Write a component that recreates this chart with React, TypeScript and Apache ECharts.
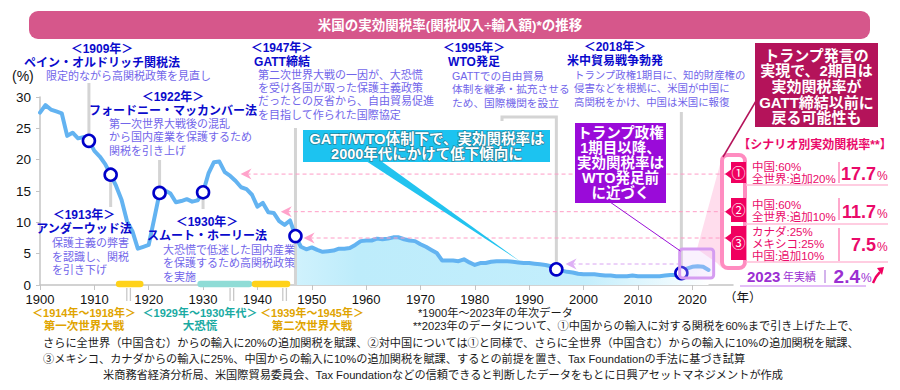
import React, { useEffect, useRef } from "react";
import * as echarts from "echarts";

const FONT = "'Liberation Sans','Noto Sans CJK JP',sans-serif";

// ---- data ----
const startYear = 1900;
const rates = [
  27.5, 28.7, 28.0, 27.7, 27.4, 23.8, 24.3, 23.4, 23.6, 23.0,
  21.4, 20.5, 19.3, 17.6, 15.8, 13.6, 10.2, 8.6, 5.8, 6.1,
  6.4, 10.5, 14.7, 15.1, 14.6, 13.2, 13.4, 13.7, 13.3, 13.5,
  14.8, 17.8, 19.6, 19.7, 18.0, 17.4, 16.6, 15.6, 15.3, 14.4,
  12.5, 13.1, 11.6, 11.5, 10.2, 9.6, 10.3, 7.8, 6.1, 5.7,
  6.0, 5.6, 5.3, 5.4, 5.5, 5.8, 5.8, 5.9, 6.4, 7.0,
  7.1, 7.1, 7.4, 7.3, 7.4, 7.6, 7.6, 7.3, 7.1, 7.0,
  6.5, 6.1, 5.6, 5.1, 3.9, 3.9, 3.9, 3.8, 4.1, 3.6,
  3.2, 3.5, 3.5, 3.7, 3.8, 3.8, 3.8, 3.7, 3.6, 3.5,
  3.5, 3.4, 3.3, 3.2, 3.0, 2.5, 2.3, 2.1, 2.0, 1.8,
  1.7, 1.7, 1.7, 1.6, 1.5, 1.5, 1.4, 1.4, 1.4, 1.5,
  1.4, 1.4, 1.4, 1.4, 1.4, 1.5, 1.6, 1.6, 1.9, 2.6,
  2.9, 3.0, 2.9, 2.4,
];
const years = rates.map((_, i) => startYear + i);
const xTickValues = [1900, 1910, 1920, 1930, 1940, 1950, 1960, 1970, 1980, 1990, 2000, 2010, 2020];
const eventYears = [1909, 1913, 1922, 1930, 1947, 1995, 2018];
const areaStartYear = 1947;
const scenarioRates = [17.7, 11.7, 7.5];
const scenarioNums = ["①", "②", "③"];
const scenarioLines = [
  ["中国:60%", "全世界:追加20%"],
  ["中国:60%", "全世界:追加10%"],
  ["カナダ:25%", "メキシコ:25%", "中国:追加10%"],
];
const actual2023 = 2.4;
const periods = [
  { from: 1914, to: 1918, color: "#ffd21a", label: "＜1914年～1918年＞", name: "第一次世界大戦", text: "#e0a400" },
  { from: 1929, to: 1938, color: "#8fdcd6", label: "＜1929年～1930年代＞", name: "大恐慌", text: "#1aaaa2" },
  { from: 1939, to: 1945, color: "#ffd21a", label: "＜1939年～1945年＞", name: "第二次世界大戦", text: "#e0a400" },
];

const NAVY = "#0a0acc";
const DESC = "#7266ea";
const PINK = "#ea0a6a";

function txt(text: string, x: number, y: number, size: number, color: string, o: any = {}) {
  return {
    type: "text",
    z: o.z ?? 60,
    silent: true,
    style: {
      text,
      x,
      y,
      fill: color,
      font: `${o.bold ? "bold " : ""}${size}px ${FONT}`,
      textAlign: o.align || "left",
      align: o.align || "left",
      textVerticalAlign: "middle",
      verticalAlign: "middle",
      ...(o.stroke ? { stroke: o.stroke, lineWidth: o.lw || 1.5 } : {}),
    },
  };
}
function line(x1: number, y1: number, x2: number, y2: number, stroke: string, lw: number, o: any = {}) {
  return {
    type: "line",
    z: o.z ?? 40,
    silent: true,
    shape: { x1, y1, x2, y2 },
    style: { stroke, lineWidth: lw, lineDash: o.dash, lineCap: o.cap || "butt" },
  };
}
function rect(x: number, y: number, w: number, h: number, style: any, z = 50, r = 0) {
  return { type: "rect", z, silent: true, shape: { x, y, width: w, height: h, r }, style };
}
function poly(points: number[][], fill: string, z = 45) {
  return { type: "polygon", z, silent: true, shape: { points }, style: { fill } };
}

export default function App() {
  const ref = useRef<HTMLDivElement>(null);
  useEffect(() => {
    const chart = echarts.init(ref.current!, null, { renderer: "svg" });
    const lineData = years.map((y, i) => [y, rates[i]]);
    const areaData = lineData.filter((d) => d[0] >= areaStartYear);
    const eventData = eventYears.map((y) => [y, rates[y - startYear]]);
    chart.setOption({
      animation: false,
      backgroundColor: "#ffffff",
      grid: { left: 40, right: 167, top: 97, bottom: 105 },
      xAxis: {
        type: "value",
        min: 1900,
        max: 2027.5,
        interval: 10,
        splitLine: { show: false },
        axisLine: { lineStyle: { color: "#c4c4c4", width: 1.5 } },
        axisTick: { length: 5, lineStyle: { color: "#c4c4c4" }, customValues: xTickValues },
        axisLabel: {
          color: "#111",
          fontSize: 13,
          fontFamily: FONT,
          margin: 8,
          customValues: xTickValues,
          formatter: (v: number) => String(v),
        },
      },
      yAxis: {
        type: "value",
        min: 0,
        max: 30,
        interval: 5,
        splitLine: { show: false },
        axisLine: { show: true, lineStyle: { color: "#c4c4c4", width: 1.5 } },
        axisTick: { show: true, length: 4, lineStyle: { color: "#c4c4c4" } },
        axisLabel: { color: "#111", fontSize: 13.5, fontFamily: FONT, margin: 9 },
      },
      series: [
        {
          type: "line",
          data: areaData,
          symbol: "none",
          lineStyle: { width: 0 },
          z: 1,
          areaStyle: {
            color: new echarts.graphic.LinearGradient(0, 0, 1, 0, [
              { offset: 0, color: "#d0f2fd" },
              { offset: 0.15, color: "#bdecfb" },
              { offset: 0.7, color: "#c3eefc" },
              { offset: 1, color: "#ffffff" },
            ]),
            opacity: 1,
          },
        },
        {
          type: "line",
          data: lineData,
          symbol: "none",
          z: 3,
          lineStyle: { color: "#63b3f1", width: 4, cap: "round", join: "round" },
        },
        {
          type: "scatter",
          data: eventData,
          symbol: "circle",
          symbolSize: 12,
          z: 10,
          itemStyle: { color: "#ffffff", borderColor: "#0000c8", borderWidth: 2.6, opacity: 1 },
        },
      ],
    });

    const px = (x: number, y: number) => chart.convertToPixel({ gridIndex: 0 }, [x, y]) as number[];
    const g: any[] = [];

    // title banner
    g.push(rect(29, 11, 841, 28, { fill: "#d6578b" }, 50, 9));
    g.push(txt("米国の実効関税率(関税収入÷輸入額)*の推移", 450, 25, 13.5, "#fff", { bold: true, align: "center" }));
    g.push(txt("(%)", 12, 76, 14, "#111"));
    g.push(txt("（年）", 724, 298, 12.5, "#111"));

    // event lines
    const GRAY = "#d4d4d4";
    const ev = (yr: number) => px(yr, rates[yr - startYear]);
    const e1909 = ev(1909), e1913 = ev(1913), e1922 = ev(1922), e1930 = ev(1930), e1947 = ev(1947), e1995 = ev(1995), e2018 = ev(2018);
    const bottom0 = px(1900, 0)[1];
    g.push(line(e1909[0], 83, e1909[0], e1909[1], GRAY, 3, { z: 1 }));
    g.push(line(e1913[0], e1913[1], e1913[0], 207, GRAY, 3, { z: 1 }));
    g.push(line(e1922[0], 160, e1922[0], e1922[1], GRAY, 3, { z: 1 }));
    g.push(line(e1930[0], e1930[1], e1930[0], 209, GRAY, 3, { z: 1 }));
    g.push(line(e1947[0], 128, e1947[0], bottom0, GRAY, 3, { z: 1 }));
    g.push({ type: "polyline", z: 1, silent: true, shape: { points: [[502, 121], [502, 117], [e1995[0], 117], [e1995[0], e1995[1]]] }, style: { stroke: GRAY, lineWidth: 3, fill: null } });
    g.push(line(e2018[0], 112, e2018[0], e2018[1], GRAY, 3, { z: 1 }));

    // period bars + connectors + labels
    const labelCenters = [84, 200, 312];
    const connectorYears = [1916.3, 1935.3, 1945.0];
    periods.forEach((p, i) => {
      const a = px(p.from, 0), b = px(p.to + 1, 0);
      g.push(line(a[0] + 3, a[1] - 1, b[0] - 3, b[1] - 1, p.color, 6.5, { z: 30, cap: "round" }));
      const cx = px(connectorYears[i], 0)[0];
      g.push(line(cx - 1.8, bottom0 + 3, cx - 1.8, bottom0 + 16, "#c8c8c8", 1.3, { z: 30 }));
      g.push(line(cx + 1.8, bottom0 + 3, cx + 1.8, bottom0 + 16, "#c8c8c8", 1.3, { z: 30 }));
      g.push(txt(p.label, labelCenters[i], 313, 11, p.text, { bold: true, align: "center" }));
      g.push(txt(p.name, labelCenters[i], 326, 11.5, p.text, { bold: true, align: "center" }));
    });

    // annotations
    const ann = (year: string, name: string, cx: number, y: number, desc: string[], dx: number, dy: number, lh: number, ds = 11) => {
      g.push(txt(`＜${year}年＞`, cx, y, 12, NAVY, { bold: true, align: "center" }));
      g.push(txt(name, cx, y + 13.5, 12, NAVY, { bold: true, align: "center" }));
      desc.forEach((d, i) => g.push(txt(d, dx, dy + i * lh, ds, DESC)));
    };
    ann("1909", "ペイン・オルドリッチ関税法", 102, 49, ["限定的ながら高関税政策を見直し"], 46, 76, 13);
    ann("1922", "フォードニー・マッカンバー法", 173, 97, ["第一次世界大戦後の混乱", "から国内産業を保護するため", "関税を引き上げ"], 109, 124, 13.3);
    ann("1913", "アンダーウッド法", 84, 215, ["保護主義の弊害", "を認識し、関税", "を引き下げ"], 52, 243, 13.5);
    ann("1930", "スムート・ホーリー法", 207, 222, ["大恐慌で低迷した国内産業", "を保護するため高関税政策", "を実施"], 163, 250, 13.3);
    ann("1947", "GATT締結", 282, 48, ["第二次世界大戦の一因が、大恐慌", "を受け各国が取った保護主義政策", "だったとの反省から、自由貿易促進", "を目指して作られた国際協定"], 258, 75, 13.2);
    ann("1995", "WTO発足", 474, 48, ["GATTでの自由貿易", "体制を継承・拡充させる", "ため、国際機関を設立"], 452, 76, 13.4, 10.7);
    ann("2018", "米中貿易戦争勃発", 615, 47, ["トランプ政権1期目に、知的財産権の", "侵害などを根拠に、米国が中国に", "高関税をかけ、中国は米国に報復"], 574, 75, 13.5, 10.4);

    // scenario dashed lines
    const dashStarts = [1936.9, 1944.3, 1948.5];
    const arrowHead = (x: number, y: number, c: string) => poly([[x, y], [x + 11, y - 5.5], [x + 7.5, y], [x + 11, y + 5.5]], c, 42);
    scenarioRates.forEach((v, i) => {
      const a = px(dashStarts[i], v);
      g.push(line(a[0] + 6, a[1], 726, a[1], "#ff9cc6", 1, { dash: [4, 3], z: 40 }));
      g.push(arrowHead(a[0], a[1], "#ffa3cb"));
      g.push(poly([[725, a[1]], [731, a[1] - 4.5], [731, a[1] + 4.5]], "#f0005f", 56));
    });
    const a24 = px(1996.7, 3.35);
    g.push(line(a24[0] + 6, a24[1], e2018[0] - 2, a24[1], "#d9a4f2", 1, { dash: [4, 3], z: 40 }));
    g.push(arrowHead(a24[0], a24[1], "#deb0f5"));

    // cyan callout
    g.push(poly([[366, 161], [381, 161], [521, 262]], "#22c3ef", 44));
    g.push(rect(303, 130, 247, 32, { fill: "#1cc3f0" }, 50));
    g.push(txt("GATT/WTO体制下で、実効関税率は", 427, 138.5, 14.5, "#fff", { bold: true, align: "center", stroke: "rgba(50,50,50,0.45)", lw: 1.5, z: 61 }));
    g.push(txt("2000年代にかけて低下傾向に", 427, 154, 14.5, "#fff", { bold: true, align: "center", stroke: "rgba(50,50,50,0.45)", lw: 1.5, z: 61 }));

    // purple callout
    g.push(line(610, 202, e2018[0] - 1, 251, "#9a10d8", 1, { z: 44 }));
    g.push(rect(575, 123, 91, 80, { fill: "#9a0bd9" }, 50));
    ["トランプ政権", "1期目以降、", "実効関税率は", "WTO発足前", "に近づく"].forEach((t, i) =>
      g.push(txt(t, 620.5, 133 + i * 15, 14.5, "#fff", { bold: true, align: "center" })));

    // crimson callout
    g.push(line(756, 101, 723, 157, "#b4135a", 1.5, { z: 44 }));
    g.push(rect(755, 43, 123, 84, { fill: "#b4135a" }, 50));
    ["トランプ発言の", "実現で、2期目は", "実効関税率が", "GATT締結以前に", "戻る可能性も"].forEach((t, i) =>
      g.push(txt(t, 816.5, 55 + i * 15.7, 15, "#fff", { bold: true, align: "center" })));

    // highlight square + fan + bracket
    const sq0 = px(2017.5, 0)[0];
    g.push(poly([[697, 249], [722, 157], [722, 268], [717, 263]], "rgba(255,165,208,0.38)", 20));
    g.push(rect(sq0 + 1, 249, 34, 29, { fill: "rgba(235,200,250,0.25)", stroke: "#d59cf1", lineWidth: 3 }, 21, 3));
    g.push(rect(722, 155, 23, 113, { fill: null, stroke: "#ff8cc0", lineWidth: 4 }, 22, 6));

    // scenario panel
    g.push(txt("【シナリオ別実効関税率**】", 815, 145, 12, PINK, { bold: true, align: "center" }));
    const boxes = [[162, 21], [198, 24], [226, 34]];
    const valY = [174, 212, 245];
    const sepY = [[162, 183], [198, 220], [228, 261]];
    const underY = [185, 224, 262];
    scenarioLines.forEach((lines, i) => {
      g.push(rect(731, boxes[i][0], 15, boxes[i][1], { fill: "#f0005f" }, 55));
      g.push(txt(scenarioNums[i], 738.5, boxes[i][0] + boxes[i][1] / 2, 14, "#fff", { align: "center", z: 62 }));
      const y0 = valY[i] - ((lines.length - 1) * 12) / 2 - 1;
      lines.forEach((t, j) => g.push(txt(t, 752, y0 + j * 12, 11.5, PINK)));
      g.push(line(839, sepY[i][0], 839, sepY[i][1], "#ff8cbc", 1.5, { z: 45 }));
      g.push(line(746, underY[i], 888, underY[i], "#ffbcd7", 1.5, { z: 45 }));
      g.push(txt(String(scenarioRates[i]), 876, valY[i], 18, PINK, { bold: true, align: "right" }));
      g.push(txt("%", 877, valY[i] + 2, 12, PINK));
    });
    const PUR = "#9b2fd2";
    g.push(txt("2023", 747, 276, 15, PUR, { bold: true }));
    g.push(txt("年実績", 783, 277, 11, PUR));
    g.push(line(825, 270, 825, 283, "#c49ae6", 1.5, { z: 62 }));
    g.push(txt(String(actual2023), 860, 276, 19, PUR, { bold: true, align: "right" }));
    g.push(txt("%", 861, 278, 12, PUR));
    g.push(line(740, 286, 866, 286, "#e4bff7", 2, { z: 45 }));
    g.push({ type: "polyline", z: 60, silent: true, shape: { points: [[873, 283], [876, 277], [880, 272]] }, style: { stroke: "#f0005f", lineWidth: 2.5, fill: null } });
    g.push(poly([[877, 268], [884, 267], [882, 275]], "#f0005f", 60));

    // footnotes
    const FN = "#1a1a1a";
    g.push(txt("*1900年～2023年の年次データ", 418, 313, 11.2, FN));
    g.push(txt("**2023年のデータについて、①中国からの輸入に対する関税を60%まで引き上げた上で、", 413, 326, 11.2, FN));
    g.push(txt("さらに全世界（中国含む）からの輸入に20%の追加関税を賦課、②対中国については①と同様で、さらに全世界（中国含む）からの輸入に10%の追加関税を賦課、", 43, 343, 11.2, FN));
    g.push(txt("③メキシコ、カナダからの輸入に25%、中国からの輸入に10%の追加関税を賦課、するとの前提を置き、Tax Foundationの手法に基づき試算", 43, 359, 11.2, FN));
    g.push(txt("米商務省経済分析局、米国際貿易委員会、Tax Foundationなどの信頼できると判断したデータをもとに日興アセットマネジメントが作成", 103, 375, 11.2, FN));

    chart.setOption({ graphic: g });
    return () => chart.dispose();
  }, []);
  return <div ref={ref} style={{ position: "absolute", left: 0, top: 0, width: 900, height: 390, background: "#fff" }} />;
}
